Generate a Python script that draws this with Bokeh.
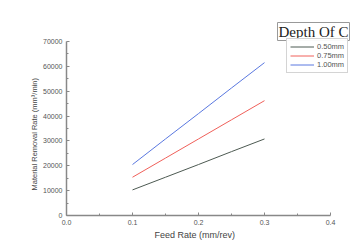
from bokeh.plotting import figure
from bokeh.models import Range1d, Legend, LegendItem, Label, FixedTicker, Title
from bokeh.embed import file_html
from bokeh.resources import INLINE

feed = [0.10, 0.15, 0.20, 0.25, 0.30]
mrr_050 = [10300, 15400, 20500, 25700, 30800]
mrr_075 = [15400, 23100, 30800, 38500, 46200]
mrr_100 = [20500, 30800, 41000, 51300, 61500]
series_names = ["0.50mm", "0.75mm", "1.00mm"]
colors = ["#4d5a52", "#f0605a", "#5a78e0"]
x_ticks = [0.0, 0.1, 0.2, 0.3, 0.4]
y_ticks = [0, 10000, 20000, 30000, 40000, 50000, 60000, 70000]

p = figure(width=358, height=244, output_backend="svg", toolbar_location=None,
           x_range=Range1d(0, 0.4424), y_range=Range1d(0, 78448),
           min_border_left=66, min_border_right=0, min_border_top=20, min_border_bottom=29)
p.outline_line_color = None
p.grid.visible = False
p.background_fill_color = "white"

renderers = []
for ys, c in zip([mrr_050, mrr_075, mrr_100], colors):
    r = p.line(feed, ys, line_color=c, line_width=1)
    renderers.append(r)

for ax in (p.xaxis[0], p.yaxis[0]):
    ax.axis_line_color = "#888888"
    ax.axis_line_width = 1.5
    ax.major_tick_line_color = "#888888"
    ax.minor_tick_line_color = "#888888"
    ax.major_tick_in = 3
    ax.major_tick_out = 0
    ax.minor_tick_in = 2
    ax.minor_tick_out = 0
    ax.major_label_text_font = "Liberation Sans"
    ax.major_label_text_font_size = "7px"
    ax.major_label_text_color = "#555555"

p.xaxis.bounds = (0, 0.4)
p.yaxis.bounds = (0, 70000)
p.xaxis.ticker = FixedTicker(ticks=x_ticks, minor_ticks=[0.05, 0.15, 0.25, 0.35])
p.yaxis.ticker = FixedTicker(ticks=y_ticks, minor_ticks=[5000, 15000, 25000, 35000, 45000, 55000, 65000])
p.xaxis.major_label_overrides = {t: f"{t:.1f}" for t in x_ticks}
p.xaxis.major_label_standoff = 4
p.yaxis.major_label_standoff = 4

xlab = Title(text="Feed Rate (mm/rev)", align="left", offset=88,
             text_font="Liberation Sans", text_font_size="9px", text_font_style="normal",
             text_color="#444444", standoff=0)
p.add_layout(xlab, "below")
ylab = Title(text="Material Removal Rate (mm\u00b3/min)", align="left", offset=25,
             text_font="Liberation Sans", text_font_size="7.5px", text_font_style="normal",
             text_color="#444444", standoff=4)
p.add_layout(ylab, "left")

legend = Legend(items=[LegendItem(label=n, renderers=[r]) for n, r in zip(series_names, renderers)],
                location=(220, 142), orientation="vertical",
                label_text_font="Liberation Sans", label_text_font_size="7.5px",
                label_text_color="#555555", glyph_width=24, glyph_height=7,
                label_height=7, spacing=0, padding=3, margin=0, label_standoff=3,
                border_line_color="#aaaaaa", border_line_width=1,
                background_fill_color="white")
p.add_layout(legend, "center")

title_lbl = Label(x=211, y=175, x_units="screen", y_units="screen",
                  text="Depth Of C", text_font="Liberation Serif", text_font_size="15px",
                  text_color="#222222", border_line_color="#999999", border_line_width=1,
                  background_fill_color="white", padding=1)
p.add_layout(title_lbl)

open("out.html", "w").write(file_html(p, INLINE))
